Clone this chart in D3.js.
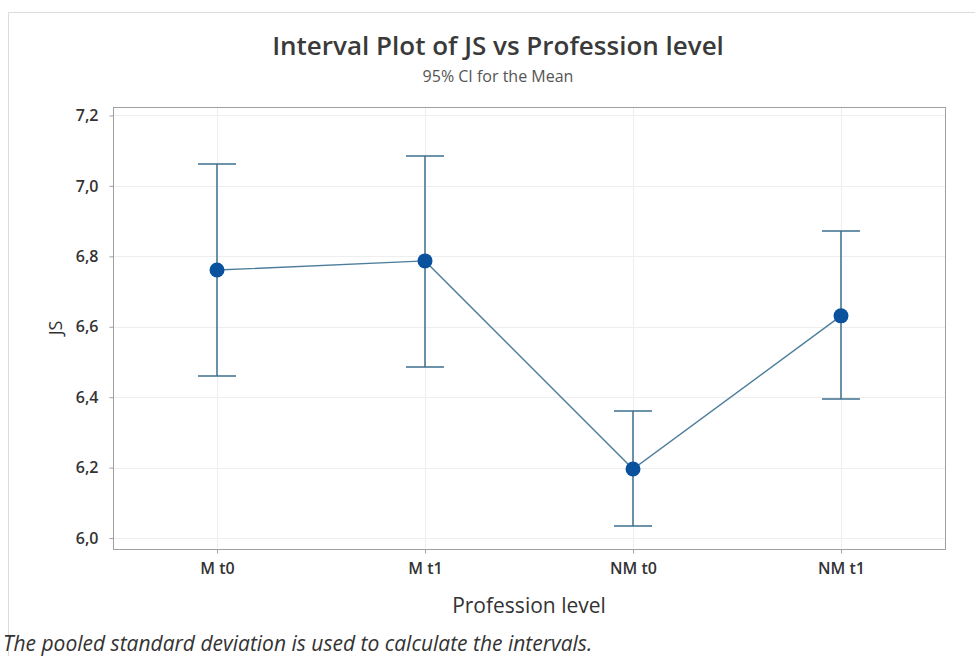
<!DOCTYPE html>
<html>
  <head>
    <meta charset="utf-8">
    <title>Interval Plot of JS vs Profession level</title>
    <style>
      html, body { margin: 0; padding: 0; background: #fff; }
      svg { display: block; }
    </style>
  </head>
  <body>
    <svg width="975" height="656"></svg>
    <script src="https://cdn.jsdelivr.net/npm/d3@7"></script>
    <script>
      var categories = ['M t0', 'M t1', 'NM t0', 'NM t1'];
      var means = [6.761, 6.787, 6.196, 6.631];
      var lower = [6.460, 6.486, 6.034, 6.395];
      var upper = [7.062, 7.085, 6.361, 6.872];
      var yTicks = [6.0, 6.2, 6.4, 6.6, 6.8, 7.0, 7.2];

      var svg = d3.select('svg');
      var font = '"Open Sans", "Noto Sans", sans-serif';

      var plotLeft = 113, plotRight = 945, plotTop = 107, plotBottom = 549;

      var x = d3.scalePoint().domain(categories).range([plotLeft, plotRight]).padding(0.5);
      var y = d3.scaleLinear().domain([5.969, 7.224]).range([plotBottom, plotTop]);

      // outer frame (light)
      svg.append('path')
        .attr('d', 'M8.5,656 V12.5 H975')
        .attr('fill', 'none')
        .attr('stroke', '#dcdcdc');

      // gridlines
      svg.append('g').selectAll('line')
        .data(yTicks)
        .enter().append('line')
          .attr('x1', plotLeft).attr('x2', plotRight)
          .attr('y1', function(d) { return Math.round(y(d)) + 0.5; })
          .attr('y2', function(d) { return Math.round(y(d)) + 0.5; })
          .attr('stroke', '#eeeeee');
      svg.append('g').selectAll('line')
        .data(categories)
        .enter().append('line')
          .attr('y1', plotTop).attr('y2', plotBottom)
          .attr('x1', function(d) { return Math.round(x(d)) + 0.5; })
          .attr('x2', function(d) { return Math.round(x(d)) + 0.5; })
          .attr('stroke', '#eeeeee');

      // plot frame
      svg.append('rect')
        .attr('x', plotLeft + 0.5).attr('y', plotTop + 0.5)
        .attr('width', plotRight - plotLeft).attr('height', plotBottom - plotTop)
        .attr('fill', 'none')
        .attr('stroke', '#a0a0a0');

      // axes
      var yAxis = svg.append('g')
        .attr('transform', 'translate(' + (plotLeft + 0.5) + ',0)')
        .call(d3.axisLeft(y).tickValues(yTicks).tickSize(4).tickPadding(11)
          .tickFormat(function(d) { return d3.format('.1f')(d).replace('.', ','); }));
      var xAxis = svg.append('g')
        .attr('transform', 'translate(0,' + (plotBottom + 0.5) + ')')
        .call(d3.axisBottom(x).tickSize(4).tickPadding(9));
      [yAxis, xAxis].forEach(function(g) {
        g.select('.domain').remove();
        g.selectAll('line').attr('stroke', '#a0a0a0');
        g.selectAll('text')
          .attr('font-family', font)
          .attr('font-size', 16)
          .attr('font-weight', 600)
          .attr('fill', '#333');
      });

      // error bars
      var bars = svg.append('g').selectAll('g')
        .data(categories)
        .enter().append('g')
          .attr('stroke', '#3d6f8e')
          .attr('stroke-width', 1.5);
      bars.append('line')
        .attr('x1', function(d) { return x(d); })
        .attr('x2', function(d) { return x(d); })
        .attr('y1', function(d, i) { return y(upper[i]); })
        .attr('y2', function(d, i) { return y(lower[i]); });
      bars.append('line')
        .attr('x1', function(d) { return x(d) - 19; })
        .attr('x2', function(d) { return x(d) + 19; })
        .attr('y1', function(d, i) { return y(upper[i]); })
        .attr('y2', function(d, i) { return y(upper[i]); });
      bars.append('line')
        .attr('x1', function(d) { return x(d) - 19; })
        .attr('x2', function(d) { return x(d) + 19; })
        .attr('y1', function(d, i) { return y(lower[i]); })
        .attr('y2', function(d, i) { return y(lower[i]); });

      // mean line
      var line = d3.line()
        .x(function(d, i) { return x(categories[i]); })
        .y(function(d) { return y(d); });
      svg.append('path')
        .datum(means)
        .attr('d', line)
        .attr('fill', 'none')
        .attr('stroke', '#4e7d9c')
        .attr('stroke-width', 1.4);

      svg.append('g').selectAll('circle')
        .data(means)
        .enter().append('circle')
          .attr('cx', function(d, i) { return x(categories[i]); })
          .attr('cy', function(d) { return y(d); })
          .attr('r', 7.5)
          .attr('fill', '#0a529e');

      // titles
      svg.append('text')
        .attr('x', 498).attr('y', 55)
        .attr('text-anchor', 'middle')
        .attr('font-family', font)
        .attr('font-size', 26)
        .attr('font-weight', 600)
        .attr('fill', '#3a3a3a')
        .text('Interval Plot of JS vs Profession level');
      svg.append('text')
        .attr('x', 498).attr('y', 82)
        .attr('text-anchor', 'middle')
        .attr('font-family', font)
        .attr('font-size', 16)
        .attr('fill', '#555')
        .text('95% CI for the Mean');

      svg.append('text')
        .attr('transform', 'translate(62,' + ((plotTop + plotBottom) / 2) + ') rotate(-90)')
        .attr('text-anchor', 'middle')
        .attr('font-family', font)
        .attr('font-size', 18)
        .attr('fill', '#333')
        .text('JS');
      svg.append('text')
        .attr('x', 529).attr('y', 613)
        .attr('text-anchor', 'middle')
        .attr('font-family', font)
        .attr('font-size', 21)
        .attr('fill', '#333')
        .text('Profession level');

      svg.append('text')
        .attr('x', 3).attr('y', 651)
        .attr('font-family', font)
        .attr('font-size', 21)
        .attr('font-style', 'italic')
        .attr('fill', '#333')
        .text('The pooled standard deviation is used to calculate the intervals.');
    </script>
  </body>
</html>
